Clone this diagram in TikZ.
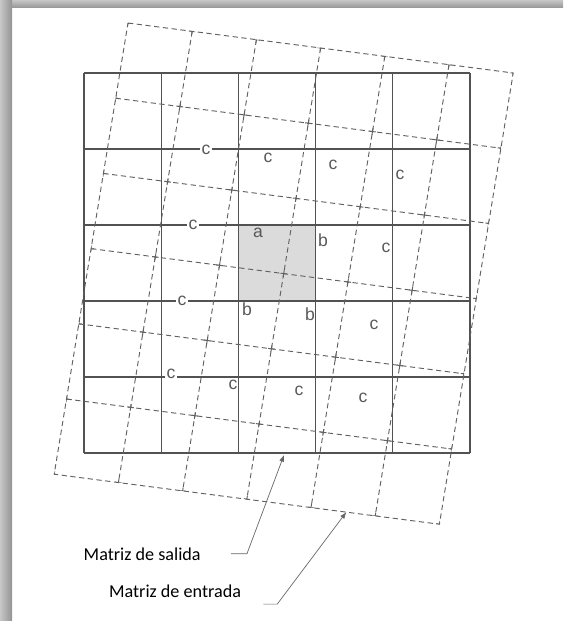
\documentclass[tikz,border=0pt]{standalone}
\usepackage{fontspec}
\setmainfont{Liberation Sans}
\newfontfamily\capfont{Carlito}
\usetikzlibrary{arrows.meta}

\begin{document}
\begin{tikzpicture}[x=0.03cm,y=-0.03cm,>=Latex,
  outgrid/.style={draw=black!68,line width=1pt},
  ingrid/.style={draw=black!62,line width=0.8pt,dash pattern=on 4.5pt off 3pt},
  tickmark/.style={draw=black!62,line width=0.8pt},
  lbl/.style={text=black!65,font=\fontsize{15}{18}\selectfont,inner sep=1.5pt},
  online/.style={lbl,fill=white},
  caption/.style={font=\capfont\fontsize{15.5}{18}\selectfont,inner sep=0pt,anchor=base west},
  leader/.style={draw=black!60,line width=0.6pt,-{Latex[length=2mm]}}]
\useasboundingbox (0,0) rectangle (563,621);
% shadow of the scanned page
\shade[top color=black!22,bottom color=black!42] (0,0) rectangle (563,8);
\shade[left color=black!22,right color=black!42] (0,0) rectangle (12,621);

% output matrix (solid)
\fill[black!14] (238.4,225) rectangle (315.6,301);
\foreach \k in {0,...,5} {
  \draw[outgrid] (84+77.2*\k,73) -- (84+77.2*\k,453);
  \draw[outgrid] (84,73+76*\k) -- (470,73+76*\k);
}

% input matrix (dashed, rotated)
\begin{scope}[shift={(128,23)},x={(1.926cm,-0.25cm)},y={(-0.369cm,-2.256cm)}]
  \draw[ingrid] (0,0) -- (6,0) -- (6,6) -- (0,6) -- cycle;
  \foreach \k in {1,...,5} {
    \draw[ingrid] (\k,0) -- (\k,6);
    \draw[ingrid] (0,\k) -- (6,\k);
  }
  \begin{scope}
    \clip (0,0) -- (6,0) -- (6,6) -- (0,6) -- cycle;
    \foreach \i in {0,...,6}
      \foreach \j in {0,...,6}
        \draw[tickmark] (\i-0.05,\j) -- (\i+0.05,\j) (\i,\j-0.045) -- (\i,\j+0.045);
  \end{scope}
  \coordinate (in-bottom) at (4.55,6.0);
\end{scope}
\coordinate (out-bottom) at (284,455);

% labels
\node[online] (c1) at (206,150) {c};
\node[lbl] (c2) at (268,158) {c};
\node[lbl] (c3) at (333,165) {c};
\node[lbl] (c4) at (400,175) {c};
\node[online] (c5) at (193,225) {c};
\node[lbl] (a) at (258,233) {a};
\node[lbl] (b1) at (323,240) {b};
\node[lbl] (c6) at (386,248) {c};
\node[online] (c7) at (182,301) {c};
\node[lbl] (b2) at (247,309) {b};
\node[lbl] (b3) at (310,314) {b};
\node[lbl] (c8) at (374,325) {c};
\node[online] (c9) at (171,374) {c};
\node[lbl] (c10) at (233,385) {c};
\node[lbl] (c11) at (299,391) {c};
\node[lbl] (c12) at (363,398) {c};

\node[caption] (salida) at (83.5,560) {Matriz de salida};
\node[caption] (entrada) at (108.8,597) {Matriz de entrada};
\draw[leader] ([xshift=0.9cm]salida.east) -- ++(16,0) -- (out-bottom);
\draw[leader] ([xshift=0.66cm,yshift=-0.4cm]entrada.east) -- ++(14,0) -- (in-bottom);
\end{tikzpicture}
\end{document}
